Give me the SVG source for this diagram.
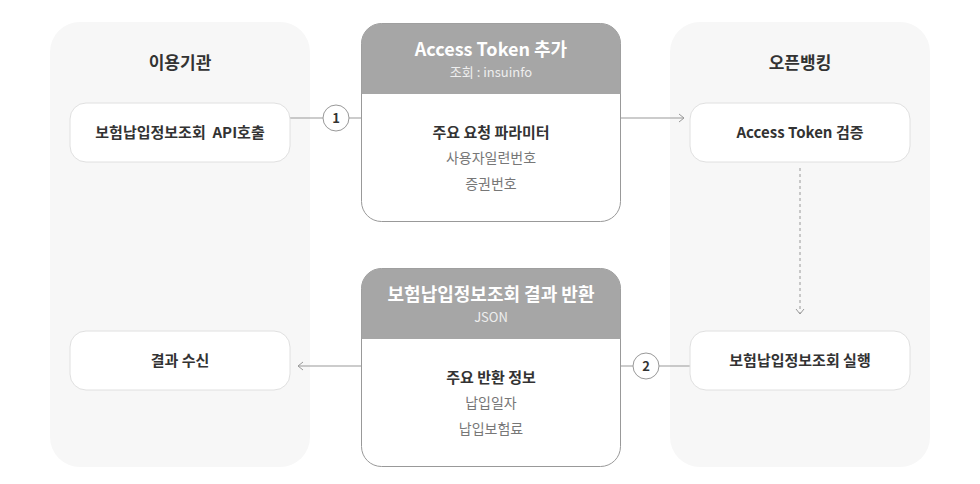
<svg xmlns="http://www.w3.org/2000/svg" width="980" height="484" viewBox="0 0 980 484">
<defs>
<marker id="ar" markerWidth="10" markerHeight="10" refX="8" refY="5" orient="auto" markerUnits="userSpaceOnUse"><path d="M3,1 L8,5 L3,9" fill="none" stroke="#999" stroke-width="1"/></marker>
</defs>
<style>
text{font-family:"Noto Sans CJK KR","Noto Sans",sans-serif;text-anchor:middle}
.panel{fill:#f7f7f7}
.node{fill:#fff;stroke:#e0e0e0;stroke-width:1}
.nt{font-size:15px;font-weight:bold;fill:#333}
.pt{font-size:17px;font-weight:bold;fill:#333}
.card{fill:#fff;stroke:#999;stroke-width:1}
.hd{fill:#a6a6a6}
.ht{font-size:18px;font-weight:bold;fill:#fff}
.hs{font-size:13px;fill:#eee}
.bt{font-size:15px;font-weight:bold;fill:#333}
.it{font-size:14px;fill:#777}
.ln{stroke:#999;stroke-width:1;fill:none}
.cir{fill:#fff;stroke:#999;stroke-width:1}
.ct{font-size:13px;font-weight:bold;fill:#333}
</style>
<rect class="panel" x="50" y="22" width="260" height="445" rx="30"/>
<rect class="panel" x="670" y="22" width="260" height="445" rx="30"/>
<text class="pt" x="180" y="69">이용기관</text>
<text class="pt" x="800" y="69">오픈뱅킹</text>
<g id="connectors">
<path class="ln" d="M290,118 H323 M349,118 H361"/>
<path class="ln" d="M621,118 H684" marker-end="url(#ar)"/>
<path class="ln" d="M800,168 V314" stroke-dasharray="3,3" marker-end="url(#ar)"/>
<path class="ln" d="M690,366 H659 M633,366 H621"/>
<path class="ln" d="M361,366 H298" marker-end="url(#ar)"/>
<circle class="cir" cx="336" cy="118" r="13"/><text class="ct" x="336" y="123">1</text>
<circle class="cir" cx="646" cy="366" r="13"/><text class="ct" x="646" y="371">2</text>
</g>
<g id="n1"><rect class="node" x="70" y="103" width="220" height="59" rx="16"/><text class="nt" x="180" y="138">보험납입정보조회&#160; API호출</text></g>
<g id="n2"><rect class="node" x="70" y="331" width="220" height="59" rx="16"/><text class="nt" x="180" y="366">결과 수신</text></g>
<g id="n3"><rect class="node" x="690" y="103" width="220" height="59" rx="16"/><text class="nt" x="800" y="138">Access Token 검증</text></g>
<g id="n4"><rect class="node" x="690" y="331" width="220" height="59" rx="16"/><text class="nt" x="800" y="366">보험납입정보조회 실행</text></g>
<g id="c1">
<rect class="card" x="361.5" y="23.5" width="259" height="198" rx="20"/>
<path class="hd" d="M361.5,94 V43.5 a20,20 0 0 1 20,-20 H600.5 a20,20 0 0 1 20,20 V94 Z"/>
<text class="ht" x="491" y="56">Access Token 추가</text>
<text class="hs" x="491" y="77">조회 : insuinfo</text>
<text class="bt" x="491" y="138">주요 요청 파라미터</text>
<text class="it" x="491" y="163">사용자일련번호</text>
<text class="it" x="491" y="189">증권번호</text>
</g>
<g id="c2">
<rect class="card" x="361.5" y="268.5" width="259" height="198" rx="20"/>
<path class="hd" d="M361.5,339 V288.5 a20,20 0 0 1 20,-20 H600.5 a20,20 0 0 1 20,20 V339 Z"/>
<text class="ht" x="491" y="301">보험납입정보조회 결과 반환</text>
<text class="hs" x="491" y="322">JSON</text>
<text class="bt" x="491" y="383">주요 반환 정보</text>
<text class="it" x="491" y="408">납입일자</text>
<text class="it" x="491" y="434">납입보험료</text>
</g>
</svg>
